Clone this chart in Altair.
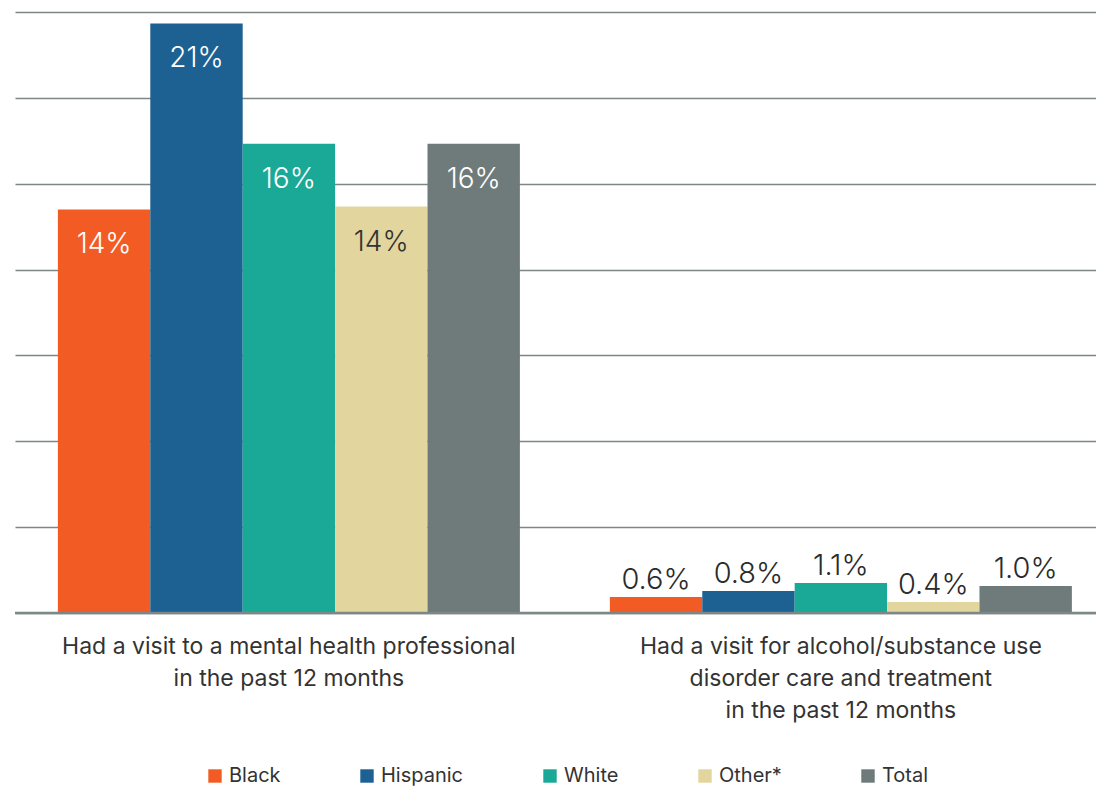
import altair as alt
import pandas as pd

measures = [
    "Had a visit to a mental health professional|in the past 12 months",
    "Had a visit for alcohol/substance use|disorder care and treatment|in the past 12 months",
]
groups = ["Black", "Hispanic", "White", "Other*", "Total"]
colors = ["#F25C24", "#1D6193", "#1AA997", "#E3D59E", "#6F7B7A"]

mh_values = [14.1, 20.6, 16.4, 14.2, 16.4]
mh_labels = ["14%", "21%", "16%", "14%", "16%"]
sud_values = [0.56, 0.77, 1.05, 0.38, 0.94]
sud_labels = ["0.6%", "0.8%", "1.1%", "0.4%", "1.0%"]
mh_label_colors = ["#FFFFFF", "#FFFFFF", "#FFFFFF", "#333333", "#FFFFFF"]
sud_label_colors = ["#2B2B2B"] * 5

grid_values = [0, 3, 6, 9, 12, 15, 18, 21]

rows = []
for g, v, l, c in zip(groups, mh_values, mh_labels, mh_label_colors):
    rows.append({"measure": measures[0], "group": g, "value": v, "label": l, "lcolor": c, "inside": 1})
for g, v, l, c in zip(groups, sud_values, sud_labels, sud_label_colors):
    rows.append({"measure": measures[1], "group": g, "value": v, "label": l, "lcolor": c, "inside": 0})
df = pd.DataFrame(rows)

FONT = "Inter"
W, H = 1081, 601

x = alt.X(
    "measure:N",
    sort=measures,
    scale=alt.Scale(paddingInner=0.163, paddingOuter=0.0607, align=0.64),
    axis=alt.Axis(
        title=None,
        labelExpr="split(datum.label, '|')",
        domain=False,
        ticks=False,
        grid=False,
        labelAngle=0,
        labelFont=FONT,
        labelFontSize=23,
        labelColor="#333333",
        labelPadding=22,
        labelLineHeight=32,
        labelLimit=0,
    ),
)
xoff = alt.XOffset("group:N", sort=groups, scale=alt.Scale(paddingInner=0, paddingOuter=0))
y = alt.Y(
    "value:Q",
    scale=alt.Scale(domain=[0, 21], nice=False, zero=True),
    axis=alt.Axis(
        title=None,
        labels=False,
        ticks=False,
        domain=False,
        values=grid_values,
        grid=True,
        gridColor="#7C8786",
        gridWidth=1.3,
    ),
)

bars = alt.Chart(df).mark_bar(stroke=None).encode(
    x=x,
    xOffset=xoff,
    y=y,
    color=alt.Color(
        "group:N",
        sort=groups,
        scale=alt.Scale(domain=groups, range=colors),
        legend=alt.Legend(
            title=None,
            orient="none",
            legendX=190,
            legendY=754,
            direction="horizontal",
            symbolType="square",
            symbolSize=180,
            symbolStrokeWidth=0,
            labelFont=FONT,
            labelFontSize=20,
            labelColor="#333333",
            columnPadding=76,
            labelOffset=4,
        ),
    ),
)

inside_text = alt.Chart(df).transform_filter("datum.inside == 1").mark_text(
    font=FONT, fontSize=28, fontWeight=300, baseline="middle", dy=36
).encode(
    x=x, xOffset=xoff, y=alt.Y("value:Q"), text="label:N",
    color=alt.Color("lcolor:N", scale=None, legend=None),
)

above_text = alt.Chart(df).transform_filter("datum.inside == 0").mark_text(
    font=FONT, fontSize=29, fontWeight=300, baseline="alphabetic", dy=-8
).encode(
    x=x, xOffset=xoff, y=alt.Y("value:Q"), text="label:N",
    color=alt.Color("lcolor:N", scale=None, legend=None),
)

baseline = alt.Chart(pd.DataFrame({"v": [0]})).mark_rule(color="#7C8786", strokeWidth=2.5).encode(
    y=alt.Y("v:Q"), x=alt.value(0), x2=alt.value(W)
)

chart = alt.layer(bars, baseline, inside_text, above_text).properties(
    width=W,
    height=H,
    autosize=alt.AutoSizeParams(type="none"),
    padding={"left": 7, "top": 4, "right": 0, "bottom": 174},
).configure_view(stroke=None)

chart.save("out.html", embed_options={"renderer": "svg", "actions": False})
